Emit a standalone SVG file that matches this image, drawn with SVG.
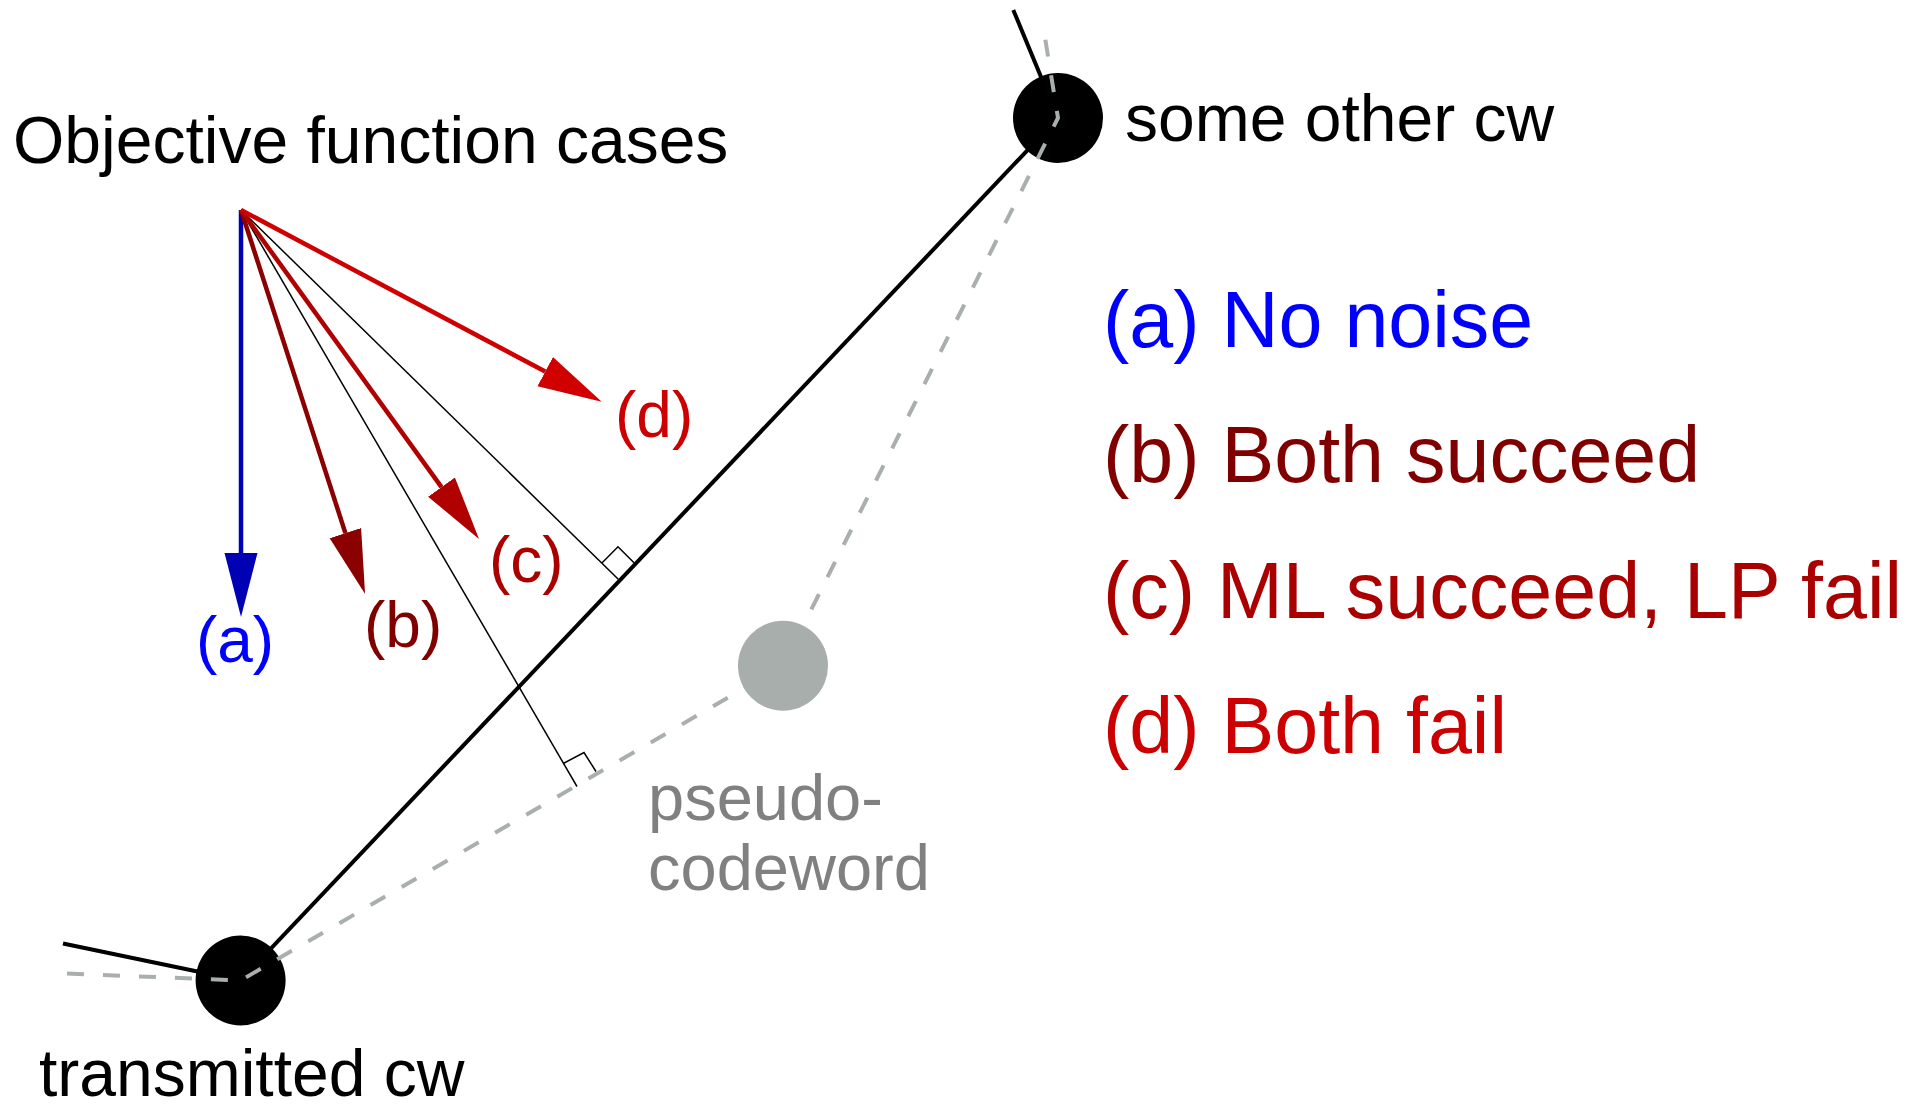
<svg xmlns="http://www.w3.org/2000/svg" width="1925" height="1104" viewBox="0 0 1925 1104">
<style>
text{font-family:"Liberation Sans",Arial,sans-serif}
.t66{font-size:66px;fill:#000}
.lbl{font-size:64px}
.leg{font-size:79px}
.pc{font-size:65px;fill:#808080}
.thin{stroke:#000;stroke-width:1.5;fill:none}
.thick{stroke:#000;stroke-width:4;fill:none}
.dash{stroke:#a9afad;stroke-width:4;fill:none;stroke-dasharray:17 19}
.arr{stroke-width:4.5;fill:none}
</style>
<defs>
<marker id="hA" markerUnits="userSpaceOnUse" markerWidth="70" markerHeight="40" viewBox="0 -20 70 40" refX="0" refY="0" orient="auto"><path d="M0,-16.5 L64,0 L0,16.5 z" fill="#0000b4"/></marker>
<marker id="hB" markerUnits="userSpaceOnUse" markerWidth="70" markerHeight="40" viewBox="0 -20 70 40" refX="0" refY="0" orient="auto"><path d="M0,-16.5 L64,0 L0,16.5 z" fill="#8b0000"/></marker>
<marker id="hC" markerUnits="userSpaceOnUse" markerWidth="70" markerHeight="40" viewBox="0 -20 70 40" refX="0" refY="0" orient="auto"><path d="M0,-16.5 L64,0 L0,16.5 z" fill="#b00000"/></marker>
<marker id="hD" markerUnits="userSpaceOnUse" markerWidth="70" markerHeight="40" viewBox="0 -20 70 40" refX="0" refY="0" orient="auto"><path d="M0,-16.5 L64,0 L0,16.5 z" fill="#d00000"/></marker>
</defs>
<rect width="1925" height="1104" fill="#fff"/>

<g id="connectors">
  <path class="thick" d="M240.6,980.5 L1058,118"/>
  <path class="thick" d="M63,943.5 L240.6,980.5"/>
  <path class="thick" d="M1013.3,10 L1058,118"/>
  <path class="thin" d="M241,210 L577,786.5"/>
  <path class="thin" d="M241,210 L618.3,579.3"/>
  <path class="thin" d="M563.3,763.5 L584,752.5 L596,771.5"/>
  <path class="thin" d="M601.9,563 L618,546.7 L634,562.7"/>
  <line class="arr" x1="241" y1="210" x2="241" y2="553" stroke="#0000b4" marker-end="url(#hA)"/>
  <line class="arr" x1="241" y1="210" x2="345.4" y2="533.1" stroke="#8b0000" marker-end="url(#hB)"/>
  <line class="arr" x1="241" y1="210" x2="441.5" y2="487.1" stroke="#b00000" marker-end="url(#hC)"/>
  <line class="arr" x1="241" y1="210" x2="545.2" y2="371.6" stroke="#d00000" marker-end="url(#hD)"/>
</g>

<g id="node-transmitted">
  <circle cx="240.6" cy="980.5" r="45" fill="#000"/>
  <text class="t66" x="39" y="1096">transmitted cw</text>
</g>
<g id="node-other">
  <circle cx="1058" cy="118" r="45" fill="#000"/>
  <text class="t66" x="1125" y="141">some other cw</text>
</g>
<g id="dashed-connectors">
  <path class="dash" d="M67,973.5 L240.6,980.5 L783,665.7 L1058,118 L1043.3,27"/>
</g>
<g id="node-pseudo">
  <circle cx="783" cy="665.7" r="45" fill="#a8aeac"/>
  <text class="pc" x="648" y="820">pseudo-</text>
  <text class="pc" x="648" y="890">codeword</text>
</g>

<g id="title">
  <text class="t66" x="13" y="163">Objective function cases</text>
</g>
<g id="arrow-labels">
  <text class="lbl" x="235" y="662" text-anchor="middle" fill="#0000ff">(a)</text>
  <text class="lbl" x="364" y="647" fill="#800000">(b)</text>
  <text class="lbl" x="489" y="582" fill="#aa0000">(c)</text>
  <text class="lbl" x="615" y="437" fill="#cc0000">(d)</text>
</g>
<g id="legend">
  <text class="leg" x="1103" y="347" fill="#0000ff">(a) No noise</text>
  <text class="leg" x="1103" y="482" fill="#800000">(b) Both succeed</text>
  <text class="leg" x="1103" y="618" fill="#aa0000">(c) ML succeed, LP fail</text>
  <text class="leg" x="1103" y="753" fill="#cc0000">(d) Both fail</text>
</g>
</svg>
